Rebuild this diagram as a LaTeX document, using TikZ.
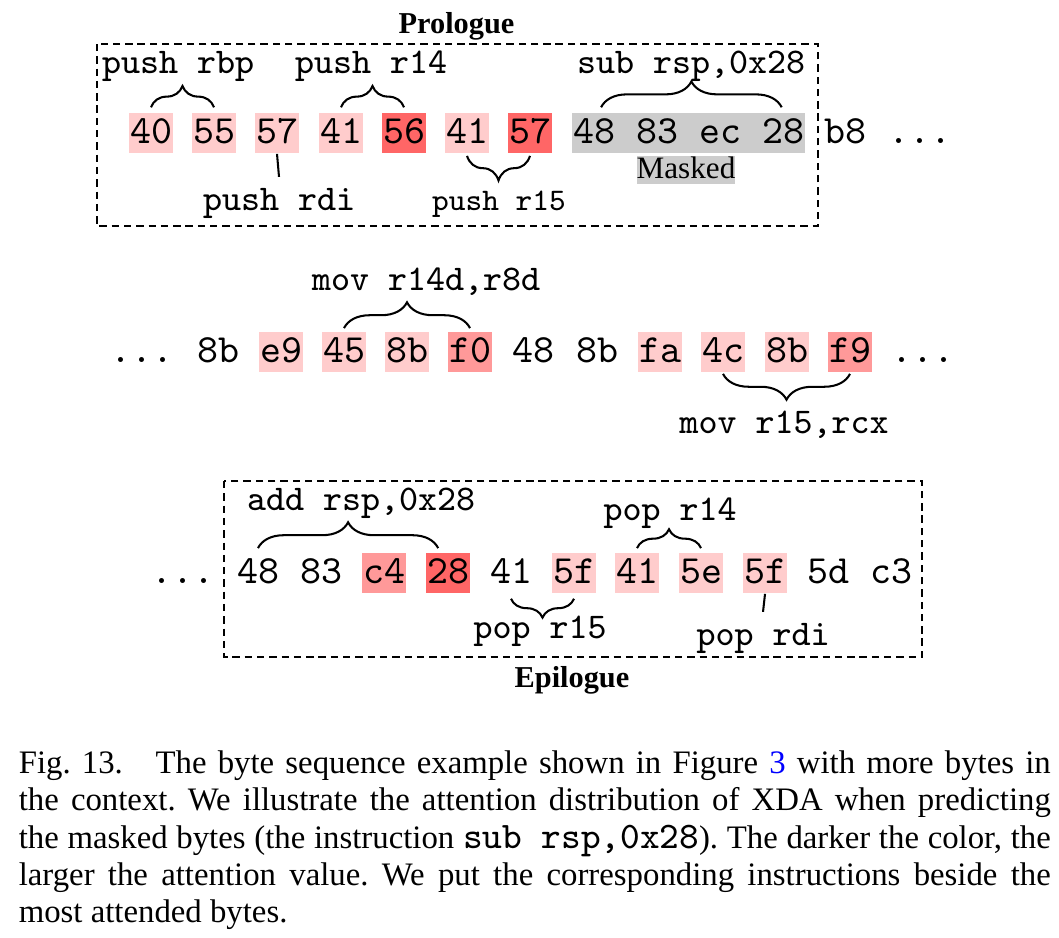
\documentclass[tikz,border=0pt]{standalone}
\usepackage{fontspec}
\setmainfont{Liberation Serif}
\usetikzlibrary{decorations.pathreplacing}
\definecolor{attlow}{HTML}{FFCCCC}
\definecolor{attmid}{HTML}{FF9999}
\definecolor{atthigh}{HTML}{FF6666}
\definecolor{maskgray}{HTML}{CCCCCC}
\newcommand{\bytefont}{\ttfamily\fontsize{9.76}{11}\selectfont}
\newcommand{\insnfont}{\ttfamily\fontsize{8.83}{10}\selectfont}
\newcommand{\headfont}{\bfseries\fontsize{7.4}{9}\selectfont}

\begin{document}
\begin{tikzpicture}[x=0.244pt, y=-0.244pt,
    byte/.style={font=\bytefont, anchor=base, inner xsep=0.25pt, inner ysep=0pt, text height=7.32pt, text depth=2.44pt, minimum width=10.74pt},
    lowbyte/.style={byte, fill=attlow},
    midbyte/.style={byte, fill=attmid},
    highbyte/.style={byte, fill=atthigh},
    insn/.style={font=\insnfont, anchor=base, inner sep=0pt},
    bytebrace/.style={decorate, decoration={brace, amplitude=#1}, line width=0.5pt},
    bytebrace/.default=5.5pt,
    dashframe/.style={draw, line width=0.5pt, dash pattern=on 1.8pt off 1.2pt}
]
    \useasboundingbox (0,0) rectangle (1059,937);

    % Prologue row
    \draw[dashframe] (97,44) rectangle (818,226);
    \node[font=\headfont, anchor=base] (prologue) at (456.5,33) {Prologue};
    \node[lowbyte] (p1) at (151,143) {40};
    \node[lowbyte] (p2) at (214,143) {55};
    \node[lowbyte] (p3) at (277,143) {57};
    \node[lowbyte] (p4) at (341,143) {41};
    \node[highbyte] (p5) at (404,143) {56};
    \node[lowbyte] (p6) at (467,143) {41};
    \node[highbyte] (p7) at (530,143) {57};
    \node[byte, fill=maskgray] (masked) at (688.5,143) {48 83 ec 28};
    \node[font=\fontsize{7.6}{9}\selectfont, anchor=base, fill=maskgray, inner sep=0pt, text height=5.4pt, text depth=1.45pt] (maskedlabel) at (686,178) {Masked};
    \node[byte] (p8) at (845,143) {b8};
    \node[byte] (pdots) at (920,143) {...};

    \node[insn] (pushrbp) at (178,73) {push rbp};
    \node[insn] (pushrfourteen) at (371,73) {push r14};
    \node[insn] (subrsp) at (691,73) {sub rsp,0x28};
    \node[insn] (pushrdi) at (279,210) {push rdi};
    \node[insn, font=\ttfamily\fontsize{7.67}{9}\selectfont] (pushrfifteen) at (499,210) {push r15};

    \draw[bytebrace=5.2pt] ([yshift=1.2pt]p1.north) -- ([yshift=1.2pt]p2.north);
    \draw[bytebrace=5.2pt] ([yshift=1.2pt]p4.north) -- ([yshift=1.2pt]p5.north);
    \draw[bytebrace=6.3pt] ([xshift=7.3pt, yshift=1.2pt]masked.north west) -- ([xshift=-5.9pt, yshift=1.2pt]masked.north east);
    \draw[bytebrace=6pt] ([yshift=-0.5pt]p7.south) -- ([yshift=-0.5pt]p6.south);
    \draw[line width=0.5pt] (p3.south) -- ([yshift=2.5pt]pushrdi.north);

    % Middle row
    \node[byte] (mdotsl) at (142,362) {...};
    \node[byte] (m1) at (218,362) {8b};
    \node[lowbyte] (m2) at (281,362) {e9};
    \node[lowbyte] (m3) at (344,362) {45};
    \node[lowbyte] (m4) at (407,362) {8b};
    \node[midbyte] (m5) at (470,362) {f0};
    \node[byte] (m6) at (533,362) {48};
    \node[byte] (m7) at (597,362) {8b};
    \node[lowbyte] (m8) at (660,362) {fa};
    \node[lowbyte] (m9) at (723,362) {4c};
    \node[lowbyte] (m10) at (787,362) {8b};
    \node[midbyte] (m11) at (850,362) {f9};
    \node[byte] (mdotsr) at (923,362) {...};

    \node[insn] (movrfourteen) at (426,290) {mov r14d,r8d};
    \node[insn] (movrfifteen) at (784,433) {mov r15,rcx};

    \draw[bytebrace=6.3pt] ([yshift=0.75pt]m3.north) -- ([yshift=0.75pt]m5.north);
    \draw[bytebrace=6.3pt] ([yshift=-0.25pt]m11.south) -- ([yshift=-0.25pt]m9.south);

    % Epilogue row
    \draw[dashframe] (224,481) rectangle (922,657);
    \node[font=\headfont, anchor=base] (epilogue) at (572,687) {Epilogue};
    \node[byte] (edots) at (183,583) {...};
    \node[byte] (e1) at (258,583) {48};
    \node[byte] (e2) at (321,583) {83};
    \node[midbyte] (e3) at (384,583) {c4};
    \node[highbyte] (e4) at (448,583) {28};
    \node[byte] (e5) at (511,583) {41};
    \node[lowbyte] (e6) at (574,583) {5f};
    \node[lowbyte] (e7) at (637,583) {41};
    \node[lowbyte] (e8) at (701,583) {5e};
    \node[lowbyte] (e9) at (765,583) {5f};
    \node[byte] (e10) at (828,583) {5d};
    \node[byte] (e11) at (891,583) {c3};

    \node[insn] (addrsp) at (361,510) {add rsp,0x28};
    \node[insn] (poprfourteen) at (670,520) {pop r14};
    \node[insn] (poprfifteen) at (540,638) {pop r15};
    \node[insn] (poprdi) at (763,645) {pop rdi};

    \draw[bytebrace=6.3pt] ([yshift=1pt]e1.north) -- ([xshift=-2.4pt, yshift=1pt]e4.north);
    \draw[bytebrace=4.6pt] ([yshift=1pt]e7.north) -- ([yshift=1pt]e8.north);
    \draw[bytebrace=4.6pt] ([yshift=-1.2pt]e6.south) -- ([yshift=-1.2pt]e5.south);
    \draw[line width=0.5pt] (e9.south) -- ([yshift=2.5pt]poprdi.north);

    % Caption
    \node[anchor=north west, inner sep=0pt, text width=251.8pt, align=justify, font=\fontsize{8}{9.1}\selectfont\frenchspacing] (caption) at (18,750) {Fig.~13.\hspace{1em}The byte sequence example shown in Figure \textcolor{blue}{3} with more bytes in the context. We illustrate the attention distribution of XDA when predicting the masked bytes (the instruction {\ttfamily\fontsize{9.14}{9.1}\selectfont sub rsp,0x28}). The darker the color, the larger the attention value. We put the corresponding instructions beside the\linebreak most attended bytes.};
\end{tikzpicture}
\end{document}
